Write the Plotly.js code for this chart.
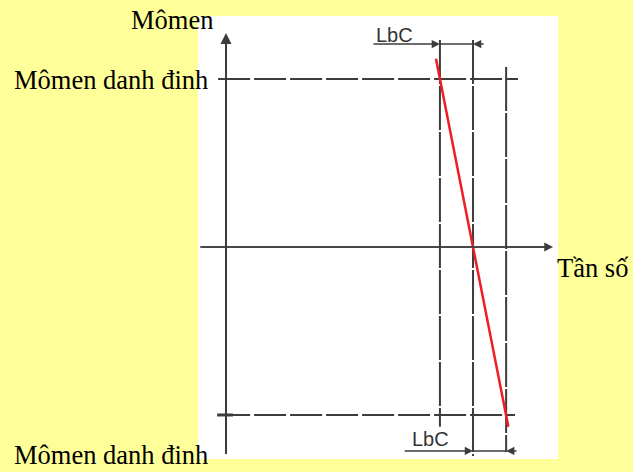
<!DOCTYPE html>
<html>
<head>
<meta charset="utf-8">
<script src="https://cdn.plot.ly/plotly-3.0.1.min.js"></script>
<style>html,body{margin:0;padding:0;background:#FFFF99;}#chart{width:633px;height:472px;}</style>
</head>
<body>
<div id="chart"></div>
<script>
// Frequency positions (per unit of synchronous frequency) and nominal torque
const fLeft = 0.866, fSync = 1.0, fRight = 1.134;
const torqueNominal = [1, -1];

// Red characteristic line (frequency, torque)
const lineFreq = [0.85, fLeft, fSync, fRight, 1.143];
const lineTorque = [1.12, 1, 0, -1, -1.07];

// Vertical dashed guide lines
const vLineF = [fLeft, fSync, fRight];
const vLineTop = [1.232, 1.232, 1.071];
const vLineBottom = [-1.07, -1.244, -1.22];

// Horizontal dashed nominal-torque lines
const hLineStart = [-0.032, -0.032];
const hLineEnd = [1.182, 1.17];

// Axis spans
const yAxisSpan = [-1.232, 1.274];
const xAxisSpan = [-0.105, 1.324];

// LbC dimension lines
const dimTopM = 1.208, dimTopTail = 0.591;
const dimBotM = -1.214, dimBotTail = 1.182;
const dimLabel = 'LbC';

// Labels
const labelTorque = 'Mômen';
const labelNominal = 'Mômen danh đinh';
const labelFreq = 'Tần số';

const guideColor = '#3c3c3c';
const traces = [];

// horizontal dashed
torqueNominal.forEach((m, i) => {
  traces.push({x: [hLineStart[i], hLineEnd[i]], y: [m, m], mode: 'lines', hoverinfo: 'skip',
    line: {color: guideColor, width: 2, dash: '32px,4px'}});
});
// vertical dashed
vLineF.forEach((f, i) => {
  traces.push({x: [f, f], y: [vLineTop[i], vLineBottom[i]], mode: 'lines', hoverinfo: 'skip',
    line: {color: guideColor, width: 2, dash: '44px,2px'}});
});
// x axis line (solid)
traces.push({x: [xAxisSpan[0], xAxisSpan[1] - 0.02], y: [0, 0], mode: 'lines', hoverinfo: 'skip',
  line: {color: guideColor, width: 1.6}});
// y axis line (solid)
traces.push({x: [0, 0], y: [yAxisSpan[0], yAxisSpan[1] - 0.03], mode: 'lines', hoverinfo: 'skip',
  line: {color: guideColor, width: 2}});
// small mark at bottom of y axis
traces.push({x: [-0.036, 0.028], y: [torqueNominal[1], torqueNominal[1]], mode: 'lines', hoverinfo: 'skip',
  line: {color: guideColor, width: 3}});
// dimension middle segments
traces.push({x: [fLeft, fSync], y: [dimTopM, dimTopM], mode: 'lines', hoverinfo: 'skip',
  line: {color: guideColor, width: 1.5}});
traces.push({x: [fSync, fRight], y: [dimBotM, dimBotM], mode: 'lines', hoverinfo: 'skip',
  line: {color: guideColor, width: 1.5}});
// red line
traces.push({x: lineFreq, y: lineTorque, mode: 'lines', hoverinfo: 'skip',
  line: {color: '#ee1c24', width: 2.5}});

function arrow(x, y, ax, ay, w) {
  return {x: x, y: y, ax: ax, ay: ay, xref: 'x', yref: 'y', axref: 'x', ayref: 'y',
    text: '', showarrow: true, arrowhead: 2, arrowsize: 1.1, arrowwidth: w || 1.5, arrowcolor: guideColor};
}

const serif = {family: '"Liberation Serif", "Times New Roman", serif', size: 26.5, color: '#000'};
const sans = {family: '"Liberation Sans", Arial, sans-serif', size: 20, color: '#333'};

const annotations = [
  arrow(0, yAxisSpan[1], 0, yAxisSpan[0], 2),
  arrow(xAxisSpan[1], 0, xAxisSpan[0], 0, 1.6),
  arrow(fLeft, dimTopM, dimTopTail, dimTopM),
  arrow(fSync, dimTopM, 1.049, dimTopM),
  arrow(fSync, dimBotM, 0.717, dimBotM),
  arrow(fRight, dimBotM, dimBotTail, dimBotM),
  {x: 0.684, y: 1.262, xref: 'x', yref: 'y', text: dimLabel, showarrow: false, font: sans},
  {x: 0.826, y: -1.14, xref: 'x', yref: 'y', text: dimLabel, showarrow: false, font: sans},
  {x: 0.047, y: 0.991, xref: 'paper', yref: 'paper', xanchor: 'right', yanchor: 'middle', text: labelTorque, showarrow: false, font: serif},
  {x: 0.033, y: 0.8555, xref: 'paper', yref: 'paper', xanchor: 'right', yanchor: 'middle', text: labelNominal, showarrow: false, font: serif},
  {x: 0.033, y: -0.029, xref: 'paper', yref: 'paper', xanchor: 'right', yanchor: 'bottom', text: labelNominal, showarrow: false, font: serif},
  {x: 0.992, y: 0.431, xref: 'paper', yref: 'paper', xanchor: 'left', yanchor: 'middle', text: labelFreq, showarrow: false, font: serif}
];

const axisCommon = {showgrid: false, zeroline: false, showticklabels: false, ticks: '', showline: false, fixedrange: true};

const layout = {
  width: 633, height: 472,
  margin: {l: 198, r: 75, t: 16, b: 13, pad: 0},
  paper_bgcolor: '#FFFF99',
  plot_bgcolor: '#FFFFFF',
  showlegend: false,
  xaxis: Object.assign({range: [-0.1134, 1.344]}, axisCommon),
  yaxis: Object.assign({range: [-1.262, 1.375]}, axisCommon),
  annotations: annotations
};

Plotly.newPlot('chart', traces, layout, {displayModeBar: false, staticPlot: true});
</script>
</body>
</html>
